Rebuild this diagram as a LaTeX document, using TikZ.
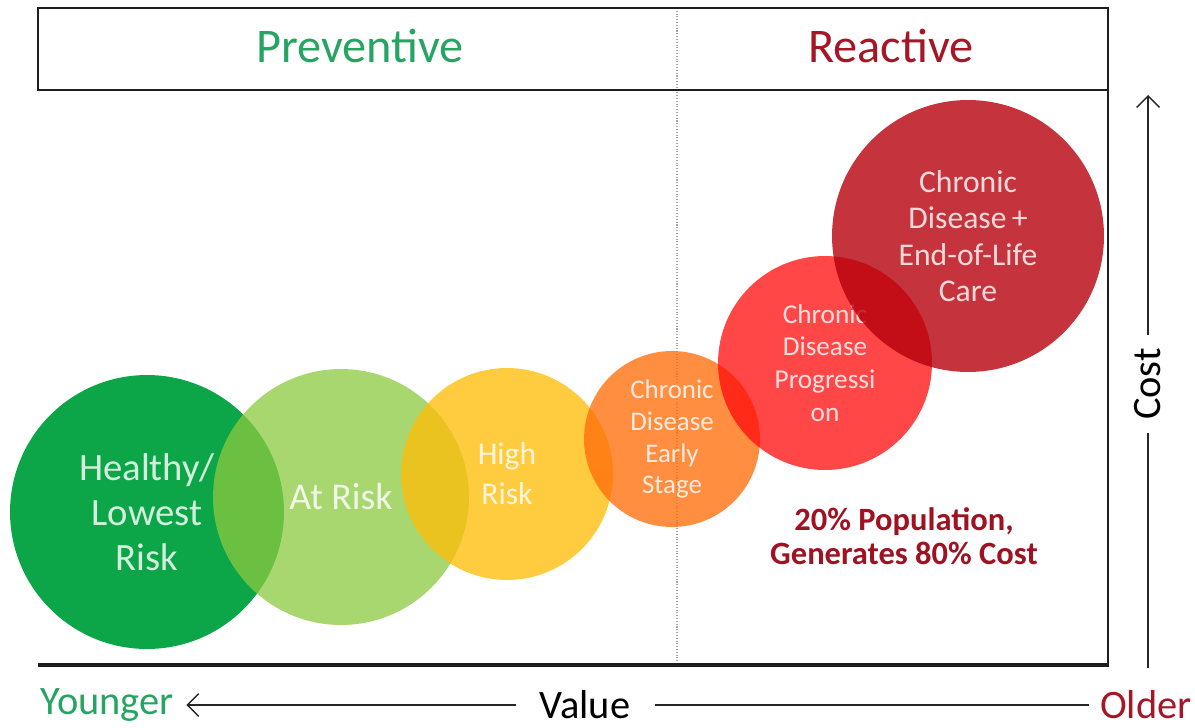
\documentclass[tikz,border=0pt]{standalone}
\usepackage{fontspec}
\setmainfont{Carlito}
\usetikzlibrary{arrows.meta}
\definecolor{cHealthy}{RGB}{12,166,72}
\definecolor{cAtRisk}{RGB}{139,201,64}
\definecolor{cHigh}{RGB}{255,190,10}
\definecolor{cEarly}{RGB}{255,110,10}
\definecolor{cProg}{RGB}{255,10,10}
\definecolor{cEnd}{RGB}{182,0,12}
\definecolor{cGreenTxt}{RGB}{38,165,98}
\definecolor{cRedTxt}{RGB}{165,22,38}
\definecolor{cNote}{RGB}{158,18,34}
\definecolor{cFrame}{RGB}{30,30,30}
\tikzset{
  blob/.style={circle, inner sep=0pt, align=center, text=white, text opacity=0.82},
  heading/.style={font=\fontsize{27.5}{33}\selectfont},
  axislabel/.style={inner sep=0pt, font=\fontsize{23}{27}\selectfont},
  axisline/.style={line width=0.8pt, draw=black!85},
  barb/.style={-{Straight Barb[length=6.5pt,width=13pt,line width=0.8pt]}},
  frameline/.style={draw=cFrame, line width=1.1pt},
}
\begin{document}
\begin{tikzpicture}[x=0.02cm,y=-0.02cm]
\useasboundingbox (0,0) rectangle (1195,727);
% divider
\draw[gray!70, line width=0.6pt, densely dotted] (677,8) -- (677,665);
% frame
\draw[frameline] (38,8) rectangle (1108,90);
\draw[frameline, line width=1.3pt] (1108,90) -- (1108,665);
\draw[frameline, line width=2pt] (38,665) -- (1109,665);
% headings
\node[heading, text=cGreenTxt] (prev) at (360,46) {Preventive};
\node[heading, text=cRedTxt] (react) at (891,46) {Reactive};
% circles
\node[blob, minimum size=5.48cm, fill=cHealthy,
      font=\fontsize{22}{25.5}\selectfont] (healthy) at (147,512) {Healthy/\\Lowest\\Risk};
\node[blob, minimum size=5.12cm, fill=cAtRisk, fill opacity=0.75,
      font=\fontsize{21.5}{25}\selectfont] (atrisk) at (341,497) {At Risk};
\node[blob, minimum size=4.24cm, fill=cHigh, fill opacity=0.78,
      font=\fontsize{18}{22.7}\selectfont] (high) at (507,474) {High\\Risk};
\node[blob, minimum size=3.52cm, fill=cEarly, fill opacity=0.78,
      font=\fontsize{15.3}{18.2}\selectfont] (early) at (672,439) {Chronic\\Disease\\Early\\Stage};
\node[blob, minimum size=4.28cm, fill=cProg, fill opacity=0.75,
      font=\fontsize{15.5}{18.7}\selectfont] (prog) at (825,363) {Chronic\\Disease\\Progressi\\on};
\node[blob, minimum size=5.44cm, fill=cEnd, fill opacity=0.8,
      font=\fontsize{18}{20.8}\selectfont] (endlife) at (968,236) {Chronic\\Disease\,+\\End-of-Life\\Care};
% note
\node[align=center, text=cNote, font=\bfseries\fontsize{18.5}{19.3}\selectfont] (note) at (904,536)
  {20\% Population,\\Generates 80\% Cost};
% bottom axis
\node[axislabel, text=cGreenTxt, anchor=west] (younger) at (40,705) {Younger};
\node[axislabel] (value) at (585,705) {Value};
\node[axislabel, text=cRedTxt, anchor=east] (older) at (1192,705) {Older};
\draw[axisline, barb, shorten <=13pt, shorten >=7pt] (value.west) -- (younger.east);
\draw[axisline, shorten <=14pt, shorten >=6pt] (value.east) -- (older.west);
% cost axis
\node[axislabel, rotate=90] (cost) at (1148,384) {Cost};
\coordinate (costtop) at (1148,95);
\coordinate (costbot) at (1148,668);
\draw[axisline, barb, shorten <=7pt] (cost.east) -- (costtop);
\draw[axisline, shorten <=7pt] (cost.west) -- (costbot);
\end{tikzpicture}
\end{document}
